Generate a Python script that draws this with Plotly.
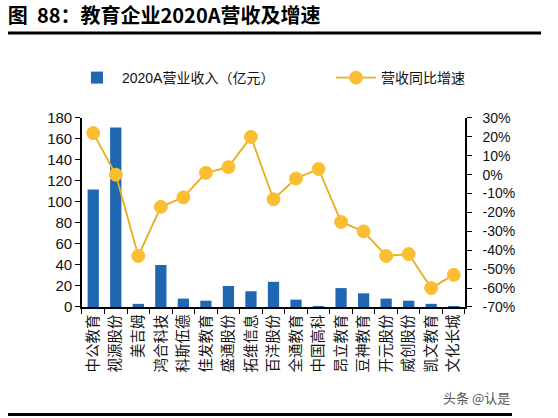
import plotly.graph_objects as go

categories = ["中公教育", "视源股份", "美吉姆", "鸿合科技", "科斯伍德", "佳发教育", "盛通股份",
              "拓维信息", "百洋股份", "全通教育", "中国高科", "昂立教育", "豆神教育", "开元股份",
              "威创股份", "凯文教育", "文化长城"]
revenue = [112, 171, 3, 40, 8, 6, 20, 15, 24, 7, 0.5, 18, 13, 8, 6, 3, 0.4]
growth = [22, 0, -43, -17, -12, 1, 4, 20, -13, -2, 3, -25, -30, -43, -42, -60, -53]
left_ticks = [0, 20, 40, 60, 80, 100, 120, 140, 160, 180]
right_ticks = [30, 20, 10, 0, -10, -20, -30, -40, -50, -60, -70]

FONT = "Liberation Sans, Arial, Noto Sans CJK SC, sans-serif"

fig = go.Figure()
fig.add_trace(go.Bar(x=categories, y=revenue, name="2020A营业收入（亿元）",
                     marker=dict(color="#1F66B3", line=dict(width=0)), width=0.5, yaxis="y",
                     legend="legend"))
fig.add_trace(go.Scatter(x=categories, y=growth, name="营收同比增速", yaxis="y2",
                         mode="lines+markers", legend="legend2",
                         line=dict(color="#E8AE1C", width=1.8),
                         marker=dict(color="#FBBE2E", size=13, line=dict(color="#F5C242", width=1))))

# paper area spans x 8..541 px, y 33..416 px
XD = [0.1388, 0.8574]
YD = [0.2846, 0.7781]

fig.update_layout(
    width=558, height=418,
    margin=dict(l=8, r=17, t=33, b=2, autoexpand=False),
    paper_bgcolor="white", plot_bgcolor="white",
    font=dict(family=FONT, size=14, color="#111"),
    showlegend=True,
    legend=dict(x=0.12, y=0.8825, xanchor="left", yanchor="middle", font=dict(size=14),
                bgcolor="rgba(0,0,0,0)", itemwidth=40),
    legend2=dict(x=0.606, y=0.8825, xanchor="left", yanchor="middle", font=dict(size=14),
                 bgcolor="rgba(0,0,0,0)", itemwidth=40),
    xaxis=dict(domain=XD, type="category", tickangle=-90, showline=True, linecolor="black",
               linewidth=1.5, ticks="outside", tickson="boundaries", ticklen=5, tickcolor="black",
               tickfont=dict(size=14.5, family="Noto Sans CJK SC"), showgrid=False,
               range=[-0.5, 16.5], automargin=False),
    yaxis=dict(domain=YD, range=[0, 180], tickvals=left_ticks, showline=True, linecolor="black",
               linewidth=1.5, ticks="outside", ticklen=5, tickcolor="black", showgrid=False,
               zeroline=False, tickfont=dict(size=15), automargin=False),
    yaxis2=dict(domain=YD, range=[-70, 30], tickvals=right_ticks,
                ticktext=[f"{v}%" for v in right_ticks], anchor="x",
                overlaying="y", side="right", showline=True, linecolor="black", linewidth=1.5,
                ticks="outside", ticklen=5, tickcolor="black", showgrid=False, zeroline=False,
                ticklabelstandoff=8, tickfont=dict(size=14), automargin=False),
    title=dict(text="<b>图  88：教育企业2020A营收及增速</b>", xref="container", yref="container",
               x=0.014, xanchor="left", y=0.962, yanchor="middle",
               font=dict(size=20, family="Noto Sans CJK SC", color="black")),
    annotations=[
        dict(text="头条 @认是", xref="paper", yref="paper", x=0.9456, y=0.047, xanchor="right",
             yanchor="middle", showarrow=False, font=dict(size=13, color="#555", family="Noto Sans CJK SC")),
    ],
    shapes=[
        dict(type="line", xref="paper", yref="paper", x0=0, x1=1, y0=1, y1=1,
             line=dict(color="black", width=3), layer="above"),
        dict(type="line", xref="paper", yref="paper", x0=0, x1=0.9456, y0=0.004, y1=0.004,
             line=dict(color="black", width=3), layer="above"),
    ],
)

fig.write_html("out.html")
